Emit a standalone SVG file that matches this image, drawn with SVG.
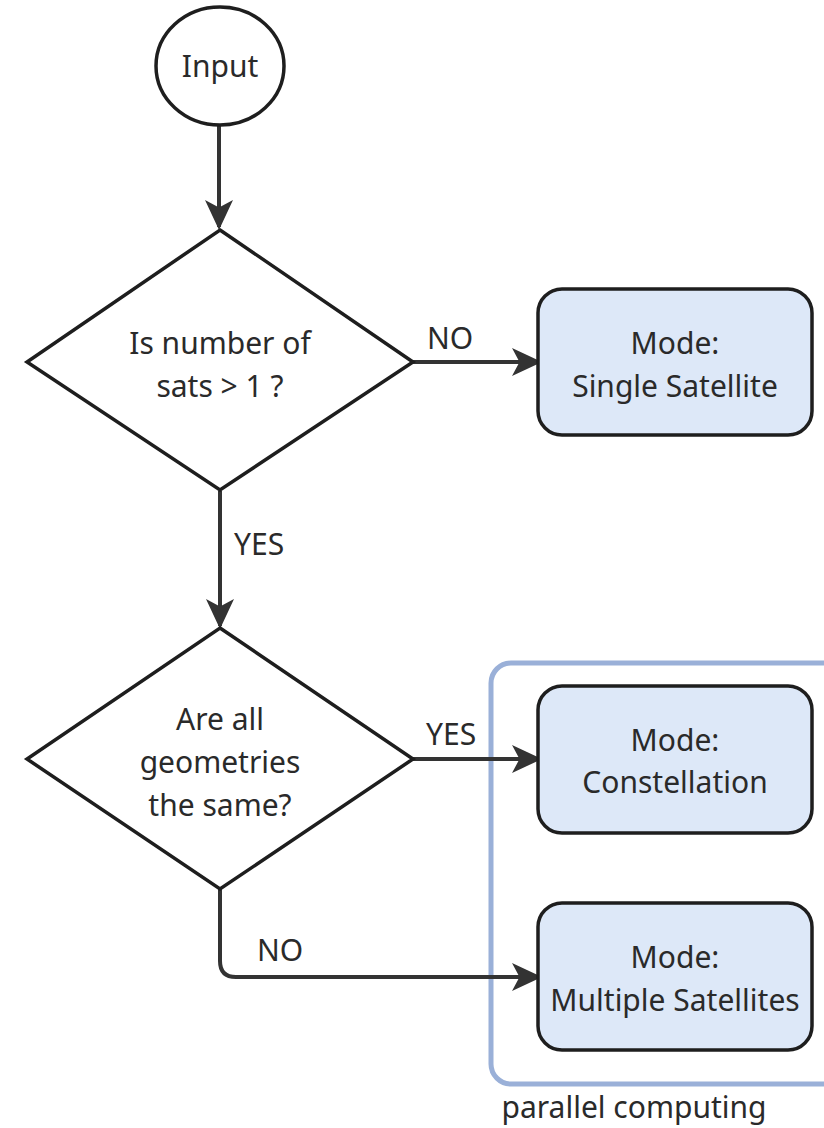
<svg xmlns="http://www.w3.org/2000/svg" width="824" height="1128" viewBox="0 0 824 1128">
<defs>
<style>
text{font-family:"Noto Sans","Open Sans","DejaVu Sans",sans-serif;font-size:30px;fill:#2a2a2a;text-anchor:middle}
.shape{fill:#ffffff;stroke:#1e1e1e;stroke-width:3.5}
.mode{fill:#dde8f8;stroke:#1e1e1e;stroke-width:3.5}
.edge{fill:none;stroke:#333333;stroke-width:4}
.lbl{text-anchor:start}
</style>
<marker id="arr" viewBox="0 0 10 10" refX="9" refY="5" markerWidth="7.5" markerHeight="7" orient="auto" markerUnits="strokeWidth" preserveAspectRatio="none">
<path d="M0,0 L10,5 L0,10 L2.5,5 Z" fill="#333333"/>
</marker>
</defs>
<rect width="824" height="1128" fill="#ffffff"/>
<g id="group-parallel">
<rect x="491" y="663" width="360" height="421" rx="20" fill="none" stroke="#9ab0d8" stroke-width="5"/>
<text x="634" y="1118">parallel computing</text>
</g>
<g id="connectors">
<path class="edge" d="M219,126 V227" marker-end="url(#arr)"/>
<path class="edge" d="M413,362 H539" marker-end="url(#arr)"/>
<path class="edge" d="M220,491 V626" marker-end="url(#arr)"/>
<path class="edge" d="M413,759 H539" marker-end="url(#arr)"/>
<path class="edge" d="M220,889 V961 Q220,977 236,977 H539" marker-end="url(#arr)"/>
<text class="lbl" x="427" y="349">NO</text>
<text class="lbl" x="234" y="555">YES</text>
<text class="lbl" x="426" y="745">YES</text>
<text class="lbl" x="257" y="961">NO</text>
</g>
<g id="input">
<ellipse class="shape" cx="220" cy="66" rx="64" ry="59"/>
<text x="220" y="77">Input</text>
</g>
<g id="decision-sats">
<polygon class="shape" points="220,230 413,362 220,490 27,362"/>
<text x="220" y="354">Is number of</text>
<text x="220" y="397">sats &gt; 1 ?</text>
</g>
<g id="mode-single">
<rect class="mode" x="538" y="289" width="274" height="146" rx="24"/>
<text x="675" y="354">Mode:</text>
<text x="675" y="397">Single Satellite</text>
</g>
<g id="decision-geom">
<polygon class="shape" points="220,628 413,759 220,889 27,759"/>
<text x="220" y="730">Are all</text>
<text x="220" y="773">geometries</text>
<text x="220" y="816">the same?</text>
</g>
<g id="mode-constellation">
<rect class="mode" x="538" y="686" width="274" height="147" rx="24"/>
<text x="675" y="751">Mode:</text>
<text x="675" y="793">Constellation</text>
</g>
<g id="mode-multiple">
<rect class="mode" x="538" y="903" width="274" height="147" rx="24"/>
<text x="675" y="968">Mode:</text>
<text x="675" y="1011">Multiple Satellites</text>
</g>
</svg>
